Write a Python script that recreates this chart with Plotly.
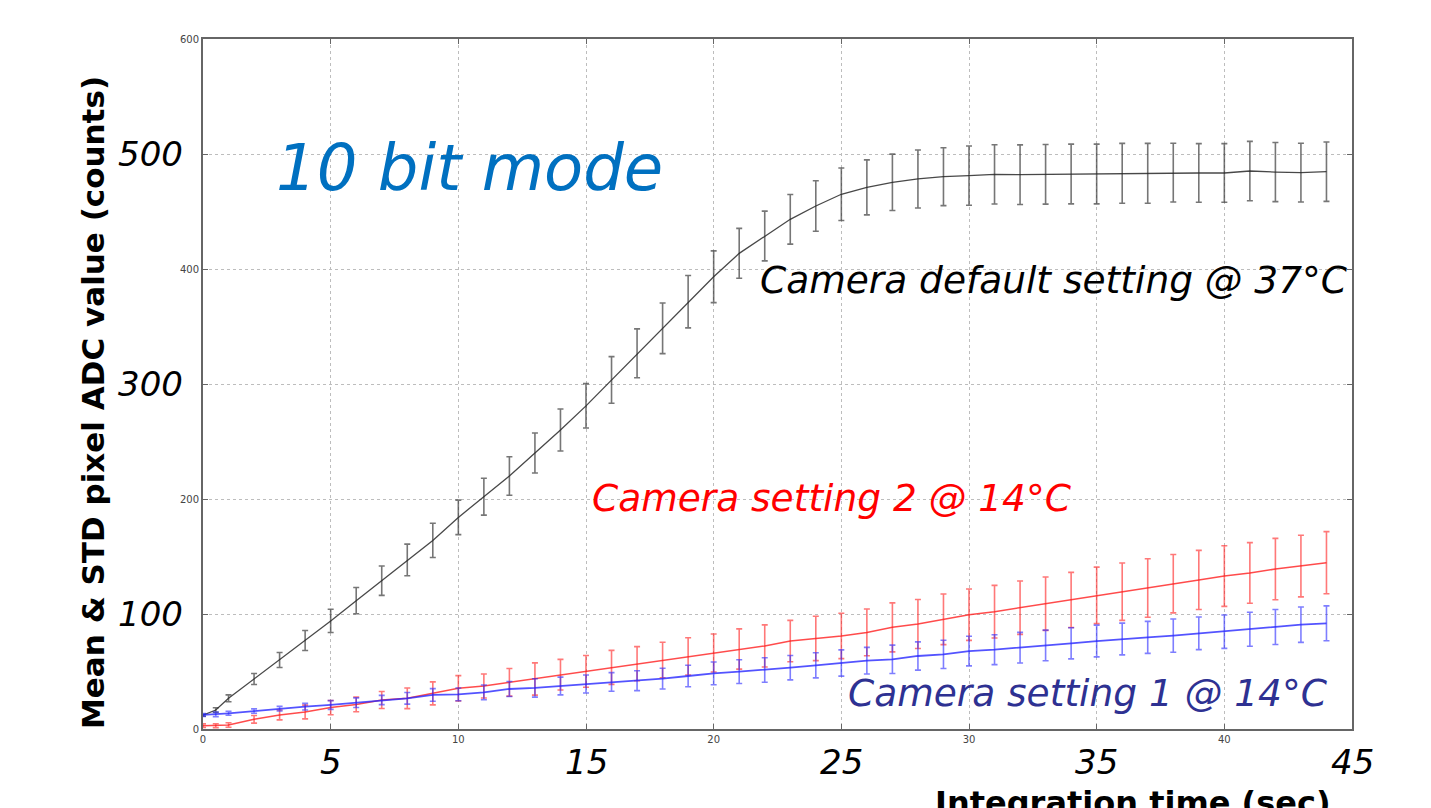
import plotly.graph_objects as go

# ---- data ----
integration_time = [0, 0.5, 1, 2, 3, 4, 5, 6, 7, 8, 9, 10, 11, 12, 13, 14, 15, 16, 17, 18, 19, 20,
                    21, 22, 23, 24, 25, 26, 27, 28, 29, 30, 31, 32, 33, 34, 35, 36, 37, 38, 39,
                    40, 41, 42, 43, 44]

default_mean = [12, 16.5, 26.7, 43.5, 60, 77, 94, 111.6, 129, 147, 164,
                184, 202, 220, 240, 260, 281, 303.5, 326.7, 348.4, 371.6, 393.3, 413.6,
                428.7, 443.2, 454.8, 465, 471, 475.4, 478.3, 480.3, 481.2, 482.3, 482, 482.3,
                482.6, 482.6, 483.2, 483.2, 483.8, 483.5, 483.5, 485.2, 484.3, 483.8, 484.6]
default_std = [0.8, 2, 3, 4.8, 6.5, 8.7, 10.1, 11.4, 12.8, 13.8, 14.9,
               15, 16, 16.8, 17.4, 18.3, 19.3, 20.3, 21.2, 22, 22.8, 22.5, 21.7,
               21.6, 21.6, 22, 22.8, 23.9, 24.5, 25.2, 25.2, 25.7, 25.8, 25.9, 25.9,
               26, 26, 26, 26, 25.5, 25.5, 25.5, 25.8, 25.7, 25.5, 25.8]

setting2_mean = [2.9, 2.9, 3.5, 8.4, 12.2, 14.8, 18.6, 21.4, 25.2, 26.7, 31,
                 35.4, 37.4, 40.6, 43.5, 47.2, 50.1, 53.6, 56.8, 60, 63.2, 66.1, 69.6,
                 72.2, 76.5, 78.8, 80.9, 84, 88.4, 91.3, 95.4, 99.4, 102, 105.5, 109,
                 112.2, 116.2, 119.4, 122.6, 126.4, 129.6, 133, 135.7, 139.1, 141.7, 144.6]
setting2_std = [1.6, 1.7, 2, 3.3, 4.3, 6, 6.2, 6.4, 7.4, 9, 10,
                11, 10.4, 12, 14, 13.3, 13.8, 14.8, 14.8, 15.4, 16.2, 16.5, 17.5,
                18.3, 18, 19.3, 19.7, 20.3, 21.3, 21.3, 22, 22.3, 22.9, 23.2, 23.2,
                24, 24.6, 24.9, 25.4, 25.4, 25.7, 26.4, 26.4, 26.7, 26.8, 27]

setting1_mean = [12.2, 12.8, 13.6, 15.6, 17.7, 19.4, 20.9, 22.9, 25.2, 26.7, 29.6,
                 30.1, 31.9, 34.8, 35.7, 37.4, 39.1, 40.9, 42, 43.8, 46.1, 48.4, 49.9,
                 51.3, 53.3, 55.4, 57.4, 59.4, 60.6, 63.5, 64.9, 67.8, 69, 70.7, 72.7,
                 74.5, 76.5, 78.3, 79.7, 81.2, 83.2, 84.6, 86.7, 88.7, 90.7, 91.9]
setting1_std = [1.3, 2, 1.7, 1.9, 2, 2.9, 3.8, 4.2, 4, 5.1, 5.5,
                5.5, 6.4, 6.5, 8, 7.7, 7.8, 8.1, 8.6, 9, 9.3, 9.9, 10.3,
                10.6, 10.6, 10.9, 11.4, 11.6, 12.3, 12.3, 12.3, 12.9, 13, 13.3, 13.3,
                13.5, 13.8, 13.8, 13.9, 14.5, 14.2, 14.5, 14.8, 15.2, 15.4, 15.2]

x_small_ticks = [0, 5, 10, 15, 20, 25, 30, 35, 40, 45]
x_small_text = ["0", "", "10", "", "20", "", "30", "", "40", ""]
y_small_ticks = [0, 100, 200, 300, 400, 500, 600]
y_small_text = ["0", "", "200", "", "400", "", "600"]
x_big_labels = [5, 15, 25, 35, 45]
y_big_labels = [100, 300, 500]

FONT = "DejaVu Sans"

# ---- layout geometry (page pixels; the page body has an 8px margin) ----
OFF = 8
W, H = 1431 - OFF, 808 - OFF
PL, PR, PT, PB = 203, 1352, 39, 729          # plot area in page pixels
L, T = PL - OFF, PT - OFF
R, B = (W + OFF) - PR, (H + OFF) - PB
PW, PH = PR - PL, PB - PT


def px(xp):
    return (xp - PL) / PW


def py(yp):
    return (PB - yp) / PH


fig = go.Figure()

series = [
    (default_mean, default_std, "rgba(40,40,40,0.85)", "rgba(60,60,60,0.7)", 1.3),
    (setting2_mean, setting2_std, "rgba(255,30,30,0.8)", "rgba(255,30,30,0.6)", 1.5),
    (setting1_mean, setting1_std, "rgba(40,40,255,0.8)", "rgba(40,40,255,0.6)", 1.8),
]
for mean, std, lc, ec, lw in series:
    fig.add_trace(go.Scatter(
        x=integration_time, y=mean, mode="lines",
        line=dict(color=lc, width=lw),
        error_y=dict(type="data", array=std, visible=True, color=ec, thickness=1.6, width=3),
        showlegend=False,
    ))

annotations = []
# big overlaid axis numbers
for v in x_big_labels:
    annotations.append(dict(x=v, xref="x", y=py(762), yref="paper", text=f"<i>{v}</i>",
                            showarrow=False, xanchor="center", yanchor="middle",
                            font=dict(family=FONT, size=34, color="black")))
for v in y_big_labels:
    annotations.append(dict(x=px(185), xref="paper", y=v, yref="y", text=f"<i>{v}</i>",
                            showarrow=False, xanchor="right", yanchor="middle",
                            font=dict(family=FONT, size=34, color="black")))

# series labels
annotations += [
    dict(x=px(274), y=py(168), xref="paper", yref="paper", text="<i>10 bit mode</i>",
         showarrow=False, xanchor="left", yanchor="middle",
         font=dict(family=FONT, size=64, color="rgb(0,112,192)")),
    dict(x=px(758), y=py(280), xref="paper", yref="paper",
         text="<i>Camera default setting @ 37°C</i>",
         showarrow=False, xanchor="left", yanchor="middle",
         font=dict(family=FONT, size=37.5, color="black")),
    dict(x=px(590), y=py(498), xref="paper", yref="paper",
         text="<i>Camera setting 2 @ 14°C</i>",
         showarrow=False, xanchor="left", yanchor="middle",
         font=dict(family=FONT, size=37.5, color="rgb(255,0,0)")),
    dict(x=px(846), y=py(693), xref="paper", yref="paper",
         text="<i>Camera setting 1 @ 14°C</i>",
         showarrow=False, xanchor="left", yanchor="middle",
         font=dict(family=FONT, size=37.5, color="rgb(46,49,146)")),
    # axis titles
    dict(x=px(93), y=py(403), xref="paper", yref="paper",
         text="<b>Mean & STD pixel ADC value (counts)</b>",
         showarrow=False, xanchor="center", yanchor="middle", textangle=-90,
         font=dict(family=FONT, size=31, color="black")),
    dict(x=px(1133), y=py(782), xref="paper", yref="paper",
         text="<b>Integration time (sec)</b>",
         showarrow=False, xanchor="center", yanchor="top",
         font=dict(family=FONT, size=32, color="black")),
]

axis_common = dict(
    showline=True, linecolor="#666666", linewidth=1.8, mirror="ticks",
    ticks="inside", ticklen=5, tickcolor="#666666",
    showgrid=True, gridcolor="#bdbdbd", griddash="dot", gridwidth=1,
    zeroline=False, tickfont=dict(family=FONT, size=10, color="#444444"),
)

fig.update_layout(
    width=W, height=H,
    margin=dict(l=L, r=R, t=T, b=B, autoexpand=False),
    paper_bgcolor="white", plot_bgcolor="white",
    xaxis=dict(range=[0, 45], tickmode="array", tickvals=x_small_ticks, ticktext=x_small_text,
               **axis_common),
    yaxis=dict(range=[0, 600], tickmode="array", tickvals=y_small_ticks, ticktext=y_small_text,
               **axis_common),
    annotations=annotations,
    showlegend=False,
)

fig.write_html("out.html")
